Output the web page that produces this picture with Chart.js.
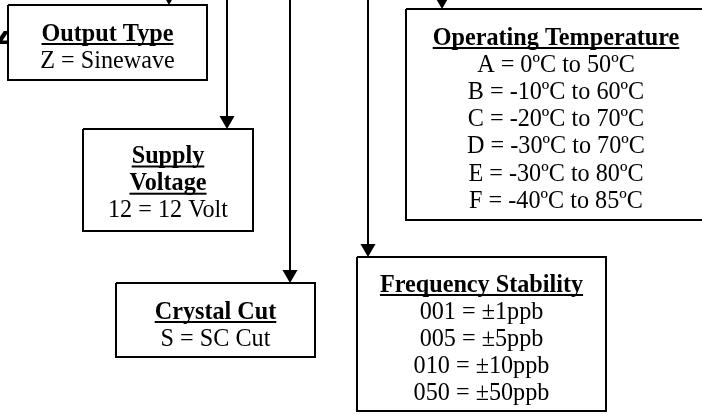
<!DOCTYPE html>
<html>
<head>
<meta charset="utf-8">
<script src="https://cdn.jsdelivr.net/npm/chart.js@4"></script>
<style>
  body { margin: 0; background: #fff; }
  #wrap { width: 702px; height: 414px; }
</style>
</head>
<body>
<div id="wrap"><canvas id="chart"></canvas></div>
<script>
// text of each block
const outputTitle = ['Output Type'];
const outputCodes = ['Z = Sinewave'];
const voltageTitle = ['Supply', 'Voltage'];
const voltageCodes = ['12 = 12 Volt'];
const cutTitle = ['Crystal Cut'];
const cutCodes = ['S = SC Cut'];
const tempTitle = ['Operating Temperature'];
const tempCodes = ['A = 0ºC to 50ºC', 'B = -10ºC to 60ºC', 'C = -20ºC to 70ºC',
                   'D = -30ºC to 70ºC', 'E = -30ºC to 80ºC', 'F = -40ºC to 85ºC'];
const stabilityTitle = ['Frequency Stability'];
const stabilityCodes = ['001 = ±1ppb', '005 = ±5ppb', '010 = ±10ppb', '050 = ±50ppb'];

// layout (page units, y grows downwards): box [x0, y0, x1, y1], first baseline
const blocks = [
  { title: outputTitle, codes: outputCodes, box: [8, 5, 207, 80], base: 40.5 },
  { title: voltageTitle, codes: voltageCodes, box: [83, 129, 253, 231], base: 163 },
  { title: cutTitle, codes: cutCodes, box: [116, 283, 315, 357], base: 318.5 },
  { title: tempTitle, codes: tempCodes, box: [406, 9, 706, 220], base: 44.5 },
  { title: stabilityTitle, codes: stabilityCodes, box: [357, 257, 606, 411], base: 291.5 }
];
// drop lines from the part number: x, y of arrow tip
const dropX = [169, 227, 290, 368, 442];
const dropEnd = [5, 129, 283, 257, 9];

const lineGap = 27.2;
const arrowR = 8.7;
const fontPx = 24.2;
const serif = '"Liberation Serif", "Times New Roman", serif';

const datasets = [];
blocks.forEach(b => {
  const [x0, y0, x1, y1] = b.box;
  datasets.push({
    data: [{x: x0, y: y0}, {x: x1, y: y0}, {x: x1, y: y1}, {x: x0, y: y1}, {x: x0, y: y0}],
    showLine: true, borderColor: '#000', borderWidth: 2, pointRadius: 0, fill: false
  });
});
dropX.forEach((x, i) => {
  datasets.push({
    data: [{x: x, y: -20}, {x: x, y: dropEnd[i] - 4}],
    showLine: true, borderColor: '#000', borderWidth: 2, pointRadius: 0
  });
});
datasets.push({
  data: dropX.map((x, i) => ({x: x, y: dropEnd[i] - arrowR})),
  showLine: false, pointStyle: 'triangle', rotation: 180, pointRadius: arrowR,
  backgroundColor: '#000', borderColor: '#000', borderWidth: 0
});

const blockText = {
  id: 'blockText',
  beforeDatasetsDraw(chart) {
    // the last letter of the part number, mostly hidden by the first box
    const {ctx, scales: {x, y}} = chart;
    ctx.save();
    ctx.beginPath();
    ctx.rect(0, y.getPixelForValue(31), x.getPixelForValue(7), 16);
    ctx.clip();
    ctx.fillStyle = '#000';
    ctx.font = 'bold 30px ' + serif;
    ctx.textAlign = 'right';
    ctx.fillText('Z', x.getPixelForValue(16), y.getPixelForValue(42));
    ctx.fillRect(0, y.getPixelForValue(42), 20, 2);
    ctx.restore();
  },
  afterDatasetsDraw(chart) {
    const {ctx, scales: {x, y}} = chart;
    ctx.save();
    ctx.fillStyle = '#000';
    ctx.textAlign = 'center';
    ctx.textBaseline = 'alphabetic';
    blocks.forEach(b => {
      const cx = x.getPixelForValue((b.box[0] + b.box[2]) / 2);
      let line = 0;
      ctx.font = 'bold ' + fontPx + 'px ' + serif;
      b.title.forEach(t => {
        const by = y.getPixelForValue(b.base + line * lineGap);
        ctx.fillText(t, cx, by);
        const w = ctx.measureText(t).width;
        ctx.fillRect(cx - w / 2, by + 2.5, w, 2);
        line++;
      });
      ctx.font = fontPx + 'px ' + serif;
      b.codes.forEach(t => {
        ctx.fillText(t, cx, y.getPixelForValue(b.base + line * lineGap));
        line++;
      });
    });
    ctx.restore();
  }
};

new Chart(document.getElementById('chart'), {
  type: 'scatter',
  data: { datasets: datasets },
  options: {
    responsive: true,
    maintainAspectRatio: false,
    animation: false,
    layout: { padding: 0, autoPadding: false },
    scales: {
      x: { type: 'linear', min: 0, max: 702, display: false },
      y: { type: 'linear', min: 0, max: 414, reverse: true, display: false }
    },
    plugins: { legend: { display: false }, tooltip: { enabled: false } }
  },
  plugins: [blockText]
});
</script>
</body>
</html>
